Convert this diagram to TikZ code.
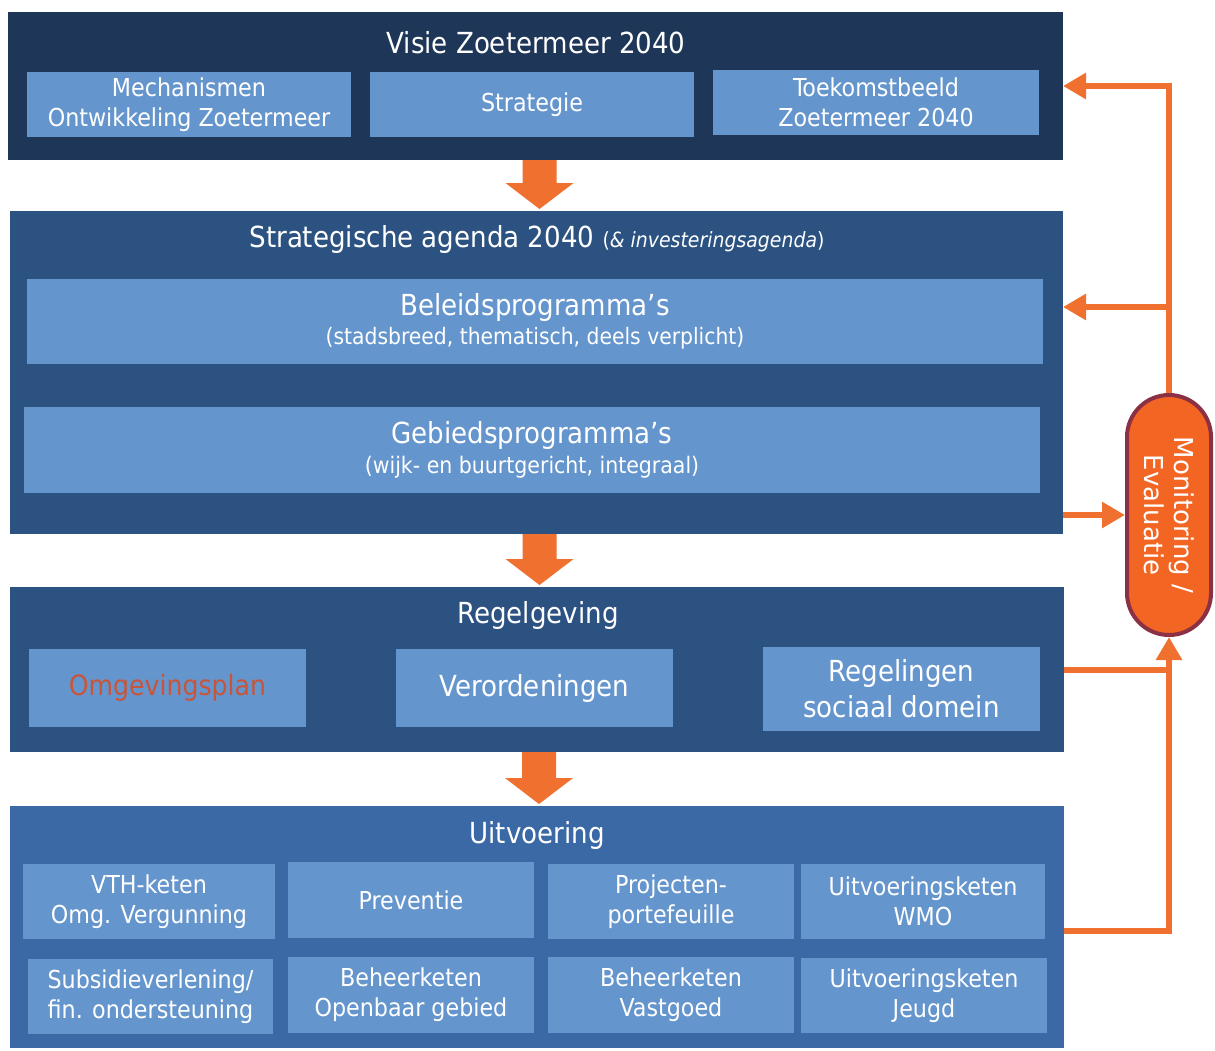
\documentclass[tikz,border=0pt]{standalone}
\usepackage{fontspec}
\setmainfont{DejaVu Sans Condensed}
\newfontfamily\pillfont{DejaVu Sans}
\usetikzlibrary{arrows.meta,calc}
\definecolor{cnavy}{HTML}{1E3658}
\definecolor{cmid}{HTML}{2C5281}
\definecolor{clight}{HTML}{3A69A5}
\definecolor{cin}{HTML}{6595CD}
\definecolor{corange}{HTML}{F07030}
\definecolor{cpill}{HTML}{F26522}
\definecolor{cpillb}{HTML}{8B3045}
\definecolor{cred}{HTML}{C8553A}
\tikzset{
  bigbox/.style={inner sep=0pt, outer sep=0pt},
  inbox/.style={fill=cin, text=white, inner sep=0pt, outer sep=0pt, align=center, font=\fontsize{24.7}{30}\selectfont},
  ttl/.style={text=white, anchor=base, inner sep=0pt, font=\fontsize{29}{34}\selectfont},
  oline/.style={draw=corange, line width=6pt},
  oarrow/.style={oline, -{Triangle[length=23pt,width=25pt]}},
  barrowfill/.style={fill=corange},
  pill/.style={fill=cpill, draw=cpillb, line width=4pt, rounded corners=42pt, inner sep=0pt}
}
\newcommand\blockarr[2]{%
  \fill[barrowfill] ($(#1)+(-17,0)$) -- ($(#1)+(17,0)$) -- ($(#1|-#2)+(17,-28)$) -- ($(#1|-#2)+(34,-28)$) -- ($(#1|-#2)+(0,-2)$) -- ($(#1|-#2)+(-34,-28)$) -- ($(#1|-#2)+(-17,-28)$) -- cycle;}
\begin{document}
\begin{tikzpicture}[x=1pt,y=-1pt]
\useasboundingbox (0,0) rectangle (1215,1050);
\fill[white] (0,0) rectangle (1215,1050);

% --- Visie
\node[bigbox, fill=cnavy, minimum width=1055pt, minimum height=148pt] (visie) at (535.5,86) {};
\node[ttl] (visieT) at (536,53) {Visie Zoetermeer 2040};
\node[inbox, minimum width=324pt, minimum height=65pt] (mech) at (189,104.5) {Mechanismen\\Ontwikkeling Zoetermeer};
\node[inbox, minimum width=324pt, minimum height=65pt] (strg) at (532,104.5) {Strategie};
\node[inbox, minimum width=326pt, minimum height=65pt] (toek) at (876,102.5) {Toekomstbeeld\\Zoetermeer 2040};

% --- Strategische agenda
\node[bigbox, fill=cmid, minimum width=1053pt, minimum height=323pt] (strat) at (536.5,372.5) {};
\node[ttl] (stratT) at (537,247) {Strategische agenda 2040 {\fontsize{21}{24}\selectfont(\textit{\& investeringsagenda})}};
\node[inbox, minimum width=1016pt, minimum height=85pt, font=\fontsize{22.6}{29}\selectfont] (bel) at (535,321.5) {{\fontsize{29}{29}\selectfont Beleidsprogramma’s}\\(stadsbreed, thematisch, deels verplicht)};
\node[inbox, minimum width=1016pt, minimum height=86pt, font=\fontsize{22.8}{30}\selectfont] (geb) at (532,450) {{\fontsize{29}{29}\selectfont Gebiedsprogramma’s}\\(wijk- en buurtgericht, integraal)};

% --- Regelgeving
\node[bigbox, fill=cmid, minimum width=1054pt, minimum height=165pt] (regel) at (537,669.5) {};
\node[ttl] (regelT) at (538,623) {Regelgeving};
\node[inbox, minimum width=277pt, minimum height=78pt, text=cred, font=\fontsize{28}{36}\selectfont] (omg) at (167.5,688) {Omgevingsplan};
\node[inbox, minimum width=277pt, minimum height=78pt, font=\fontsize{29}{36}\selectfont] (ver) at (534.5,688) {Verordeningen};
\node[inbox, minimum width=277pt, minimum height=84pt, font=\fontsize{29}{36}\selectfont] (regl) at (901.5,689) {Regelingen\\sociaal domein};

% --- Uitvoering
\node[bigbox, fill=clight, minimum width=1054pt, minimum height=242pt] (uitv) at (537,927) {};
\node[ttl] (uitvT) at (537,843) {Uitvoering};
\node[inbox, minimum width=252pt, minimum height=75pt] (vth) at (149,901.5) {VTH-keten\\Omg. Vergunning};
\node[inbox, minimum width=246pt, minimum height=76pt] (prev) at (411,900) {Preventie};
\node[inbox, minimum width=246pt, minimum height=75pt] (proj) at (671,901.5) {Projecten-\\portefeuille};
\node[inbox, minimum width=244pt, minimum height=75pt] (wmo) at (923,901.5) {Uitvoeringsketen\\WMO};
\node[inbox, minimum width=245pt, minimum height=75pt] (subs) at (150.5,996.5) {Subsidieverlening/\\fin. ondersteuning};
\node[inbox, minimum width=246pt, minimum height=76pt] (beh) at (411,995) {Beheerketen\\Openbaar gebied};
\node[inbox, minimum width=246pt, minimum height=76pt] (vast) at (671,995) {Beheerketen\\Vastgoed};
\node[inbox, minimum width=246pt, minimum height=75pt] (jeugd) at (924,995.5) {Uitvoeringsketen\\Jeugd};

% --- block arrows
\coordinate (a1) at ([xshift=4pt]visie.south);
\coordinate (a2) at ([xshift=3pt]strat.south);
\coordinate (a3) at ([xshift=2pt]regel.south);
\blockarr{a1}{strat.north}
\blockarr{a2}{regel.north}
\blockarr{a3}{uitv.north}

% --- Monitoring
\node[pill, minimum width=84pt, minimum height=240pt] (mon) at (1169,515) {};
\node[rotate=-90, text=white, align=center, inner sep=0pt, font=\pillfont\fontsize{26}{30}\selectfont] (monT) at (mon.center) {Monitoring /\\Evaluatie};

% --- connectors
\coordinate (br) at (1169,307);
\draw[oarrow] (mon.north) |- (visie.east);
\draw[oarrow] (br) -- (br -| strat.east);
\draw[oarrow] (strat.east |- mon.west) -- (mon.west);
\draw[oline] (regel.east) -- (regel.east -| mon.south);
\draw[oarrow] ([yshift=-4pt]uitv.east) -| (mon.south);
\end{tikzpicture}
\end{document}
